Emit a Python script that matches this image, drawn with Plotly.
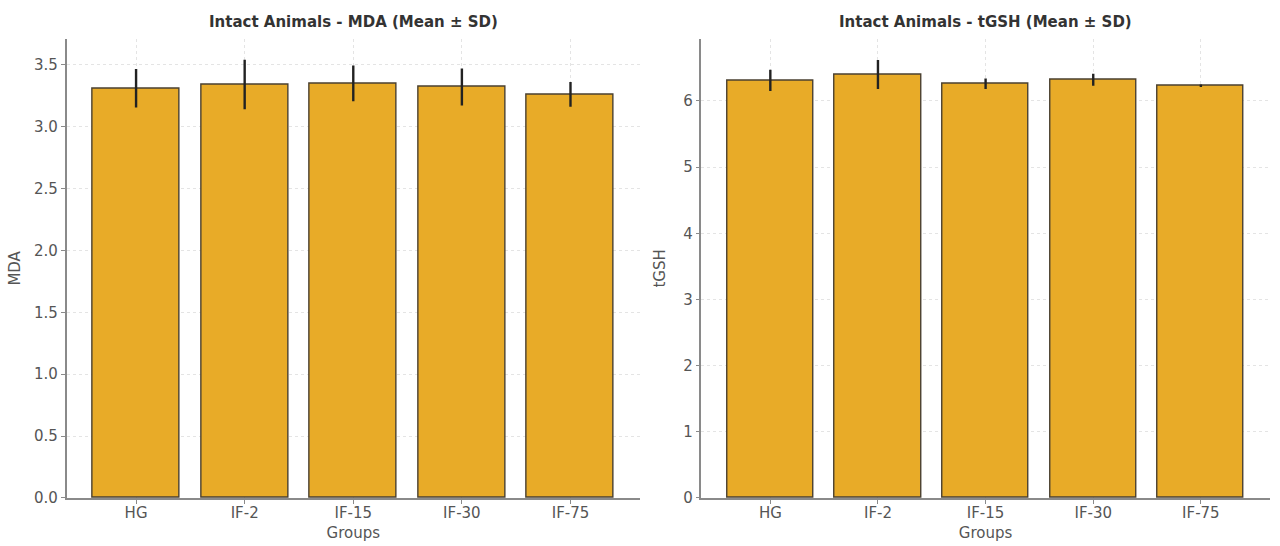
import plotly.graph_objects as go

groups = ["HG", "IF-2", "IF-15", "IF-30", "IF-75"]
mda_mean = [3.31, 3.34, 3.35, 3.32, 3.26]
mda_sd = [0.155, 0.20, 0.145, 0.15, 0.10]
tgsh_mean = [6.31, 6.40, 6.26, 6.32, 6.23]
tgsh_sd = [0.16, 0.22, 0.08, 0.09, 0.02]

bar_color = "#E8AB28"
edge = "#4a4030"
font = "DejaVu Sans"
xpos = list(range(len(groups)))

fig = go.Figure()
fig.add_trace(go.Bar(
    x=xpos, y=mda_mean, width=0.8, xaxis="x", yaxis="y",
    marker=dict(color=bar_color, line=dict(color=edge, width=1.4)),
    error_y=dict(type="data", array=mda_sd, color="#222222", thickness=2.4, width=0),
    showlegend=False, hoverinfo="skip",
))
fig.add_trace(go.Bar(
    x=xpos, y=tgsh_mean, width=0.8, xaxis="x2", yaxis="y2",
    marker=dict(color=bar_color, line=dict(color=edge, width=1.4)),
    error_y=dict(type="data", array=tgsh_sd, color="#222222", thickness=2.4, width=0),
    showlegend=False, hoverinfo="skip",
))

axis_common = dict(
    showline=True, linecolor="#8a8a8a", linewidth=1.5,
    ticks="outside", ticklen=4, tickcolor="#8a8a8a",
    tickfont=dict(family=font, size=15, color="#555555"),
    showgrid=True, gridcolor="#e4e4e4", griddash="dot", gridwidth=1,
    zeroline=False, mirror=False, automargin=False,
)
title_font = dict(family=font, size=15, color="#555555")

fig.update_layout(
    width=1280, height=546,
    paper_bgcolor="white", plot_bgcolor="white",
    margin=dict(l=0, r=0, t=0, b=0),
    font=dict(family=font, color="#555555"),
    bargap=0,
    xaxis=dict(domain=[0.052, 0.5], range=[-0.64, 4.64], anchor="y",
               tickmode="array", tickvals=xpos, ticktext=groups, ticklabelstandoff=-4,
               title=dict(text="Groups", font=title_font, standoff=7),
               **axis_common),
    yaxis=dict(domain=[0.088, 0.929], range=[0, 3.71], anchor="x",
               tickmode="array", tickvals=[0, 0.5, 1, 1.5, 2, 2.5, 3, 3.5],
               ticktext=["0.0", "0.5", "1.0", "1.5", "2.0", "2.5", "3.0", "3.5"],
               title=dict(text="MDA", font=title_font, standoff=10),
               **axis_common),
    xaxis2=dict(domain=[0.548, 0.992], range=[-0.64, 4.64], anchor="y2",
                tickmode="array", tickvals=xpos, ticktext=groups, ticklabelstandoff=-4,
                title=dict(text="Groups", font=title_font, standoff=7),
                **axis_common),
    yaxis2=dict(domain=[0.088, 0.929], range=[0, 6.94], anchor="x2",
                tickmode="array", tickvals=[0, 1, 2, 3, 4, 5, 6],
                title=dict(text="tGSH", font=title_font, standoff=14),
                **axis_common),
    annotations=[
        dict(text="<b>Intact Animals - MDA (Mean ± SD)</b>", x=(0.052 + 0.5) / 2, y=0.96,
             xref="paper", yref="paper", showarrow=False,
             font=dict(family=font, size=15, color="#333333"), xanchor="center", yanchor="middle"),
        dict(text="<b>Intact Animals - tGSH (Mean ± SD)</b>", x=(0.548 + 0.992) / 2, y=0.96,
             xref="paper", yref="paper", showarrow=False,
             font=dict(family=font, size=15, color="#333333"), xanchor="center", yanchor="middle"),
    ],
)

fig.write_html("out.html", config={"displayModeBar": False},
               post_script="document.body.style.margin='0';document.body.style.overflow='hidden';")
